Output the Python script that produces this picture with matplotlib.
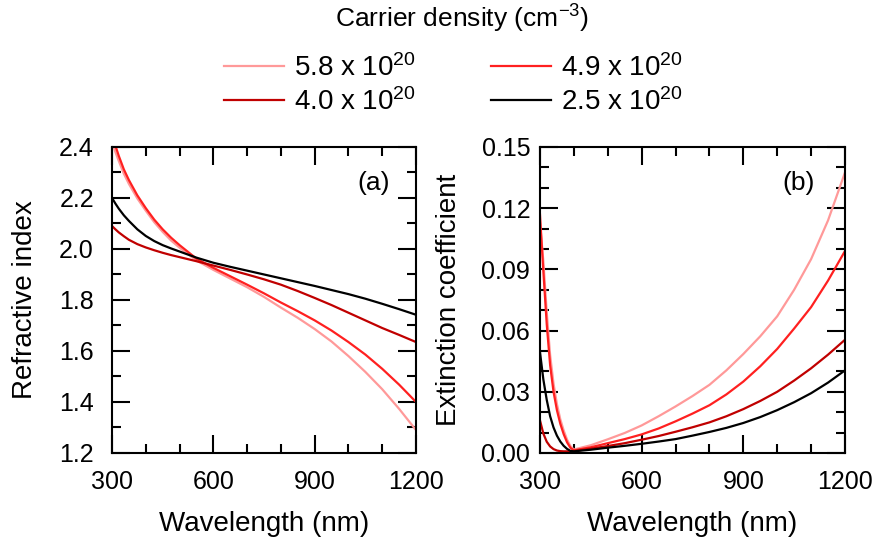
import matplotlib
matplotlib.use("Agg")
import matplotlib.pyplot as plt
from matplotlib.ticker import MultipleLocator

plt.rcParams['font.family'] = ['Liberation Sans', 'DejaVu Sans']
plt.rcParams['mathtext.fontset'] = 'custom'
plt.rcParams['mathtext.rm'] = 'Liberation Sans'
plt.rcParams['mathtext.it'] = 'Liberation Sans:italic'

# Legend labels and colours (carrier density, cm^-3)
labels = ['5.8 x 10$^{20}$', '4.9 x 10$^{20}$', '4.0 x 10$^{20}$', '2.5 x 10$^{20}$']
colors = ['#ff9999', '#ff2020', '#c00000', '#000000']

# (a) refractive index
wl_n = [300, 310, 320, 335, 350, 375, 400, 425, 450, 475, 500, 550, 600, 650,
        700, 750, 800, 850, 900, 950, 1000, 1050, 1100, 1150, 1200]
n_58 = [2.42, 2.38, 2.345, 2.295, 2.255, 2.198, 2.15, 2.105, 2.067, 2.033, 2.005, 1.955, 1.918, 1.884,
        1.85, 1.812, 1.77, 1.73, 1.686, 1.637, 1.58, 1.518, 1.45, 1.373, 1.29]
n_49 = [2.45, 2.405, 2.365, 2.312, 2.27, 2.21, 2.16, 2.115, 2.077, 2.044, 2.015, 1.962, 1.926, 1.893,
        1.86, 1.826, 1.79, 1.756, 1.72, 1.68, 1.635, 1.586, 1.53, 1.468, 1.40]
n_40 = [2.09, 2.077, 2.065, 2.05, 2.036, 2.019, 2.006, 1.995, 1.985, 1.976, 1.968, 1.952, 1.935, 1.918,
        1.90, 1.881, 1.86, 1.835, 1.808, 1.78, 1.75, 1.72, 1.69, 1.663, 1.635]
n_25 = [2.20, 2.178, 2.158, 2.132, 2.11, 2.077, 2.051, 2.031, 2.015, 2.002, 1.99, 1.966, 1.946, 1.93,
        1.915, 1.90, 1.885, 1.87, 1.855, 1.839, 1.823, 1.805, 1.785, 1.764, 1.742]

# (b) extinction coefficient
wl_k = [300, 310, 320, 330, 340, 350, 360, 370, 380, 390, 400, 450, 500, 550, 600, 650, 700,
        750, 800, 850, 900, 950, 1000, 1050, 1100, 1150, 1200]
k_58 = [0.113, 0.094, 0.069, 0.048, 0.034, 0.024, 0.0165, 0.011, 0.0065, 0.0033, 0.0017,
        0.0038, 0.0067, 0.0098, 0.0135, 0.018, 0.0228, 0.0279, 0.0334, 0.0405, 0.0485,
        0.0572, 0.067, 0.080, 0.095, 0.114, 0.1375]
k_49 = [0.117, 0.089, 0.063, 0.043, 0.030, 0.021, 0.0143, 0.0092, 0.0052, 0.0025, 0.0013,
        0.0028, 0.0048, 0.0068, 0.0091, 0.012, 0.0155, 0.0193, 0.0234, 0.0287, 0.035,
        0.0425, 0.051, 0.061, 0.0715, 0.0845, 0.099]
k_40 = [0.016, 0.0095, 0.0055, 0.0032, 0.0019, 0.0012, 0.0009, 0.0008, 0.0008, 0.0008, 0.0009,
        0.0021, 0.0034, 0.0048, 0.0065, 0.0083, 0.0104, 0.0126, 0.0150, 0.0180, 0.0215,
        0.0255, 0.030, 0.0355, 0.0415, 0.0482, 0.0555]
k_25 = [0.0495, 0.036, 0.026, 0.018, 0.0125, 0.0085, 0.0056, 0.0035, 0.002, 0.001, 0.0008,
        0.0016, 0.0026, 0.0035, 0.0045, 0.0056, 0.0068, 0.0085, 0.0103, 0.0123, 0.0147,
        0.0176, 0.0210, 0.0249, 0.0293, 0.0345, 0.0405]

fig = plt.figure(figsize=(8.78, 5.48), dpi=100)
ax1 = fig.add_axes([0.1276, 0.1734, 0.3462, 0.5584])
ax2 = fig.add_axes([0.615, 0.1734, 0.3474, 0.5584])

lines = []
for y, c, lab in zip([n_58, n_49, n_40, n_25], colors, labels):
    l, = ax1.plot(wl_n, y, color=c, lw=1.6, label=lab)
    lines.append(l)
for y, c in zip([k_58, k_49, k_40, k_25], colors):
    ax2.plot(wl_k, y, color=c, lw=1.6)

ax1.set_xlim(300, 1200)
ax1.set_ylim(1.2, 2.4)
ax1.yaxis.set_minor_locator(MultipleLocator(0.1))
ax1.set_yticks([1.2, 1.4, 1.6, 1.8, 2.0, 2.2, 2.4])
ax1.set_yticklabels(['1.2', '1.4', '1.6', '1.8', '2.0', '2.2', '2.4'])
ax1.set_ylabel('Refractive index', fontsize=20)
ax1.yaxis.set_label_coords(-0.286, 0.5)
ax1.text(0.915, 0.882, '(a)', transform=ax1.transAxes, fontsize=19, ha='right', va='center')

ax2.set_xlim(300, 1200)
ax2.set_ylim(0, 0.15)
ax2.yaxis.set_minor_locator(MultipleLocator(0.01))
ax2.set_yticks([0.0, 0.03, 0.06, 0.09, 0.12, 0.15])
ax2.set_yticklabels(['0.00', '0.03', '0.06', '0.09', '0.12', '0.15'])
ax2.set_ylabel('Extinction coefficient', fontsize=20)
ax2.yaxis.set_label_coords(-0.298, 0.5)
ax2.text(0.90, 0.882, '(b)', transform=ax2.transAxes, fontsize=19, ha='right', va='center')

for ax, pad in [(ax1, 13), (ax2, 7)]:
    ax.set_xticks([300, 600, 900, 1200])
    ax.xaxis.set_minor_locator(MultipleLocator(100))
    ax.set_xlabel('Wavelength (nm)', fontsize=20)
    ax.xaxis.set_label_coords(0.5, -0.232)
    ax.xaxis.label.set_verticalalignment('center')
    ax.yaxis.label.set_verticalalignment('center')
    ax.tick_params(which='both', direction='in', top=True, right=True, width=1.5)
    ax.tick_params(which='major', length=13)
    ax.tick_params(which='minor', length=6.5)
    ax.tick_params(axis='y', which='major', labelsize=18, pad=pad)
    ax.tick_params(axis='x', which='major', labelsize=18, pad=12)
    for s in ax.spines.values():
        s.set_linewidth(1.5)

fig.text(0.526, 0.965, 'Carrier density (cm$^{-3}$)', fontsize=19, ha='center', va='center')
order = [0, 2, 1, 3]
fig.legend([lines[i] for i in order], [labels[i] for i in order], ncol=2,
           loc='center', bbox_to_anchor=(0.516, 0.845), frameon=False, fontsize=20,
           handlelength=2.16, handletextpad=0.36, columnspacing=2.7, labelspacing=0.22)

fig.savefig('out.png', dpi=100)
